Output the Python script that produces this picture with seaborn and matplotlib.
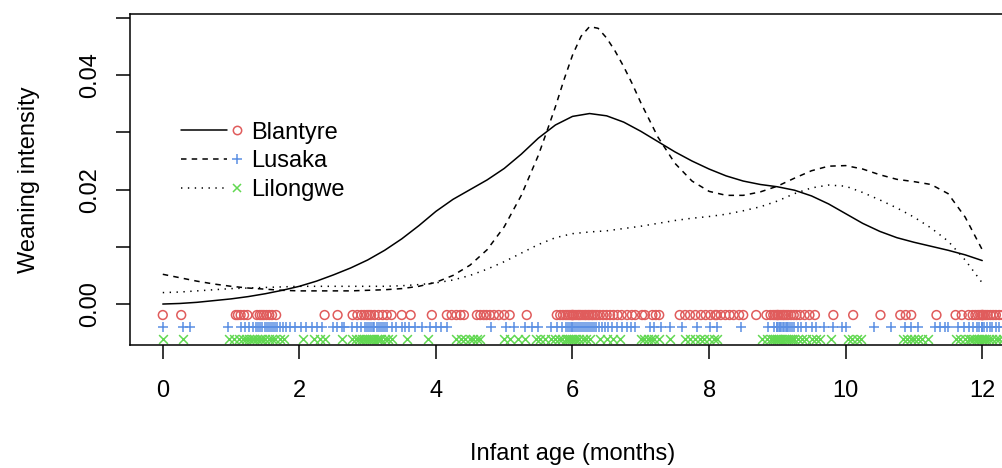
import matplotlib
matplotlib.use("Agg")
import matplotlib.pyplot as plt
from matplotlib.lines import Line2D
from matplotlib.legend_handler import HandlerBase
import pandas as pd
import seaborn as sns

# Smoothed weaning intensity by infant age (months)
age = [0.0, 0.25, 0.5, 0.75, 1.0, 1.25, 1.5, 1.75, 2.0, 2.25, 2.5, 2.75, 3.0,
       3.25, 3.5, 3.75, 4.0, 4.25, 4.5, 4.75, 5.0, 5.25, 5.5, 5.75, 6.0,
       6.25, 6.5, 6.75, 7.0, 7.25, 7.5, 7.75, 8.0, 8.25, 8.5, 8.75, 9.0,
       9.25, 9.5, 9.75, 10.0, 10.25, 10.5, 10.75, 11.0, 11.25, 11.5, 11.75, 12.0]

blantyre = [0.0000, 0.0001, 0.0003, 0.0006, 0.0009, 0.0013, 0.0018, 0.0024,
            0.0031, 0.0040, 0.0051, 0.0063, 0.0077, 0.0094, 0.0114, 0.0137,
            0.0162, 0.0183, 0.0200, 0.0217, 0.0237, 0.0262, 0.0290, 0.0313,
            0.0328, 0.0333, 0.0329, 0.0318, 0.0302, 0.0284, 0.0266, 0.0250,
            0.0236, 0.0224, 0.0215, 0.0209, 0.0205, 0.0199, 0.0189, 0.0175,
            0.0158, 0.0141, 0.0127, 0.0116, 0.0108, 0.0101, 0.0094, 0.0086,
            0.0076]

# Lusaka is evaluated on a finer grid around its sharp peak
age_lusaka = [0.0, 0.25, 0.5, 0.75, 1.0, 1.25, 1.5, 1.75, 2.0, 2.25, 2.5, 2.75,
              3.0, 3.25, 3.5, 3.75, 4.0, 4.25, 4.5, 4.75, 5.0, 5.25, 5.5,
              5.625, 5.75, 5.875, 6.0, 6.125, 6.25, 6.375, 6.5, 6.625, 6.75,
              6.875, 7.0, 7.25, 7.5, 7.75, 8.0, 8.25, 8.5, 8.75, 9.0, 9.25,
              9.5, 9.75, 10.0, 10.25, 10.5, 10.75, 11.0, 11.25, 11.5, 11.75, 12.0]

lusaka = [0.0052, 0.0046, 0.0040, 0.0035, 0.0031, 0.0028, 0.0026, 0.0024,
          0.0023, 0.0023, 0.0023, 0.0023, 0.0024, 0.0025, 0.0027, 0.0031,
          0.0038, 0.0050, 0.0068, 0.0095, 0.0135, 0.0190, 0.0260,
          0.0302, 0.0345, 0.0392, 0.0435, 0.0468, 0.0485, 0.0482, 0.0465,
          0.0442, 0.0415, 0.0385, 0.0352, 0.0292, 0.0246, 0.0215,
          0.0197, 0.0190, 0.0190, 0.0196, 0.0206, 0.0220, 0.0233, 0.0241,
          0.0242, 0.0236, 0.0226, 0.0218, 0.0214, 0.0209, 0.0193, 0.0152,
          0.0095]

lilongwe = [0.0020, 0.0021, 0.0023, 0.0025, 0.0027, 0.0028, 0.0029, 0.0030,
            0.0031, 0.0031, 0.0031, 0.0031, 0.0031, 0.0031, 0.0032, 0.0034,
            0.0037, 0.0042, 0.0050, 0.0061, 0.0074, 0.0089, 0.0104, 0.0116,
            0.0123, 0.0126, 0.0128, 0.0132, 0.0136, 0.0141, 0.0146, 0.0150,
            0.0153, 0.0157, 0.0163, 0.0170, 0.0180, 0.0193, 0.0203, 0.0208,
            0.0206, 0.0195, 0.0182, 0.0168, 0.0152, 0.0133, 0.0110, 0.0077,
            0.0037]

# Observed weaning ages per site (rug rows under the curves)
ages_blantyre = [
    0.0, 0.27, 1.07, 1.10, 1.14, 1.19, 1.24, 1.38, 1.42, 1.45, 1.48, 1.52,
    1.56, 1.60, 1.66, 2.37, 2.56, 2.78, 2.85, 2.91, 2.95, 2.99, 3.02, 3.05,
    3.10, 3.16, 3.22, 3.28, 3.35, 3.50, 3.63, 3.94, 4.16, 4.23, 4.30, 4.36,
    4.41, 4.60, 4.65, 4.70, 4.74, 4.79, 4.85, 4.92, 5.00, 5.08, 5.33, 5.77,
    5.82, 5.86, 5.90, 5.93, 5.96, 5.99, 6.00, 6.00, 6.02, 6.05, 6.08, 6.10,
    6.12, 6.15, 6.18, 6.20, 6.23, 6.25, 6.28, 6.30, 6.33, 6.36, 6.40, 6.45,
    6.50, 6.55, 6.60, 6.66, 6.72, 6.80, 6.87, 6.92, 7.02, 7.06, 7.17, 7.22,
    7.27, 7.57, 7.65, 7.72, 7.80, 7.88, 7.95, 8.02, 8.09, 8.11, 8.17, 8.24,
    8.30, 8.36, 8.44, 8.50, 8.69, 8.84, 8.90, 8.94, 8.97, 9.00, 9.00, 9.02,
    9.05, 9.08, 9.10, 9.13, 9.16, 9.20, 9.24, 9.28, 9.33, 9.40, 9.47, 9.55,
    9.82, 10.11, 10.51, 10.80, 10.88, 10.96, 11.33, 11.61, 11.70, 11.80,
    11.86, 11.90, 11.94, 11.97, 12.00, 12.00, 12.00, 12.02, 12.05, 12.08,
    12.12, 12.16, 12.20, 12.25, 12.30]

ages_lusaka = [
    0.0, 0.30, 0.40, 0.95, 1.14, 1.20, 1.26, 1.32, 1.36, 1.40, 1.43, 1.46,
    1.49, 1.52, 1.55, 1.58, 1.61, 1.64, 1.68, 1.72, 1.76, 1.80, 1.87, 1.94,
    2.02, 2.10, 2.18, 2.26, 2.33, 2.49, 2.55, 2.62, 2.66, 2.77, 2.85, 2.91,
    2.96, 2.99, 3.02, 3.05, 3.08, 3.10, 3.13, 3.16, 3.19, 3.22, 3.25, 3.29,
    3.35, 3.42, 3.50, 3.54, 3.61, 3.70, 3.80, 3.91, 4.00, 4.08, 4.16, 4.80,
    5.02, 5.15, 5.30, 5.40, 5.50, 5.69, 5.78, 5.85, 5.90, 5.94, 5.97, 6.00,
    6.00, 6.02, 6.05, 6.08, 6.11, 6.14, 6.17, 6.20, 6.23, 6.26, 6.29, 6.32,
    6.35, 6.39, 6.43, 6.47, 6.52, 6.58, 6.65, 6.72, 6.80, 6.86, 6.92, 7.13,
    7.20, 7.30, 7.43, 7.61, 7.83, 8.02, 8.11, 8.47, 8.87, 8.95, 9.00, 9.00,
    9.02, 9.04, 9.06, 9.08, 9.10, 9.12, 9.14, 9.16, 9.19, 9.22, 9.25, 9.30,
    9.35, 9.42, 9.50, 9.57, 9.69, 9.82, 9.95, 10.01, 10.41, 10.67, 10.87,
    10.96, 11.06, 11.31, 11.38, 11.45, 11.50, 11.65, 11.73, 11.80, 11.87,
    11.92, 11.96, 12.00, 12.00, 12.00, 12.03, 12.07, 12.11, 12.15, 12.20,
    12.25, 12.30]

ages_lilongwe = [
    0.0, 0.29, 0.97, 1.05, 1.12, 1.17, 1.22, 1.26, 1.30, 1.34, 1.38, 1.42,
    1.46, 1.50, 1.55, 1.60, 1.65, 1.72, 1.78, 2.05, 2.22, 2.30, 2.38, 2.62,
    2.77, 2.83, 2.88, 2.92, 2.95, 2.98, 3.01, 3.04, 3.07, 3.10, 3.13, 3.16,
    3.20, 3.25, 3.30, 3.35, 3.57, 3.89, 4.30, 4.36, 4.42, 4.50, 4.55, 4.60,
    4.65, 4.99, 5.08, 5.20, 5.31, 5.46, 5.52, 5.60, 5.69, 5.75, 5.80, 5.85,
    5.90, 5.94, 5.97, 6.00, 6.02, 6.05, 6.10, 6.15, 6.20, 6.25, 6.40, 6.50,
    6.59, 6.70, 7.00, 7.05, 7.10, 7.15, 7.20, 7.27, 7.43, 7.65, 7.72, 7.79,
    7.86, 7.93, 8.00, 8.07, 8.12, 8.77, 8.85, 8.90, 8.94, 8.97, 9.00, 9.00,
    9.03, 9.06, 9.09, 9.12, 9.15, 9.18, 9.21, 9.25, 9.30, 9.36, 9.42, 9.50,
    9.57, 9.62, 9.79, 10.04, 10.10, 10.16, 10.23, 10.84, 10.90, 10.95, 11.00,
    11.06, 11.12, 11.21, 11.61, 11.68, 11.75, 11.80, 11.84, 11.88, 11.92,
    11.95, 11.98, 12.00, 12.00, 12.02, 12.05, 12.10, 12.15, 12.20, 12.25,
    12.30]

sites = ["Blantyre", "Lusaka", "Lilongwe"]
rug_levels = [-0.00192, -0.00402, -0.00611]
x_ticks = [0, 2, 4, 6, 8, 10, 12]
y_ticks = [0.00, 0.01, 0.02, 0.03, 0.04, 0.05]
y_tick_labels = ["0.00", "", "0.02", "", "0.04", ""]

colors = {"Blantyre": "#E05C5C", "Lusaka": "#5B8FE3", "Lilongwe": "#62D852"}
line_styles = {"Blantyre": "-", "Lusaka": (0, (3.6, 3.4)), "Lilongwe": (0, (0.9, 3.6))}
markers = {"Blantyre": "o", "Lusaka": "+", "Lilongwe": "x"}

sns.set_theme(style="white")
plt.rcParams["font.family"] = ["Liberation Sans", "DejaVu Sans"]
plt.rcParams["text.color"] = "black"
plt.rcParams["axes.labelcolor"] = "black"
plt.rcParams["xtick.color"] = "black"
plt.rcParams["ytick.color"] = "black"
plt.rcParams["axes.linewidth"] = 1.1

FS = 17

fig = plt.figure(figsize=(10.03, 4.68), dpi=100)
ax = fig.add_axes([130 / 1003, 123 / 468, 885 / 1003, 331 / 468])

curve_series = {
    "Blantyre": pd.DataFrame({"age": age, "w": blantyre}),
    "Lusaka": pd.DataFrame({"age": age_lusaka, "w": lusaka}),
    "Lilongwe": pd.DataFrame({"age": age, "w": lilongwe}),
}
for site in sites:
    sns.lineplot(data=curve_series[site], x="age", y="w", ax=ax, color="black",
                 linewidth=1.1, linestyle=line_styles[site], legend=False)

obs = {"Blantyre": ages_blantyre, "Lusaka": ages_lusaka, "Lilongwe": ages_lilongwe}
for site, level in zip(sites, rug_levels):
    pts = pd.DataFrame({"age": obs[site], "y": [level] * len(obs[site])})
    if markers[site] == "o":
        sns.scatterplot(data=pts, x="age", y="y", ax=ax, marker="o", s=40,
                        facecolors="none", edgecolor=colors[site],
                        linewidth=1.1, legend=False)
    else:
        sns.scatterplot(data=pts, x="age", y="y", ax=ax, marker=markers[site],
                        s=58 if markers[site] == "+" else 40,
                        color=colors[site], linewidth=1.1, legend=False)

ax.set_xlim(-0.48, 12.48)
ax.set_ylim(-0.00716, 0.0507)
ax.set_xticks(x_ticks)
ax.set_xticklabels([str(t) for t in x_ticks])
ax.set_yticks(y_ticks)
ax.set_yticklabels(y_tick_labels, rotation=90, va="center")

for side in ["left", "bottom", "top", "right"]:
    ax.spines[side].set_visible(True)
    ax.spines[side].set_color("black")
    ax.spines[side].set_linewidth(1.1)

ax.tick_params(axis="both", direction="out", length=10, width=1.1,
               color="black", labelsize=FS, labelcolor="black")
ax.tick_params(axis="x", bottom=True, pad=15)
ax.tick_params(axis="y", left=True, pad=11)

ax.set_xlabel("Infant age (months)", fontsize=FS, labelpad=30, color="black")
ax.set_ylabel("Weaning intensity", fontsize=FS, labelpad=28, color="black")


class LineThenMarker(HandlerBase):
    """Legend key: a line segment followed by the site's point symbol."""

    def create_artists(self, legend, orig_handle, xdescent, ydescent,
                       width, height, fontsize, trans):
        ln, mk = orig_handle
        y = height / 2 - ydescent
        seg = Line2D([-xdescent, -xdescent + width * 0.73], [y, y])
        seg.update_from(ln)
        dot = Line2D([-xdescent + width * 0.89], [y])
        dot.update_from(mk)
        seg.set_transform(trans)
        dot.set_transform(trans)
        return [seg, dot]


handles = []
for site in sites:
    ln = Line2D([], [], color="black", linewidth=1.1, linestyle=line_styles[site])
    mk = Line2D([], [], linestyle="none", marker=markers[site],
                markersize=7.5 if markers[site] == "+" else 6,
                markerfacecolor="none",
                markeredgecolor=colors[site], markeredgewidth=1.1)
    handles.append((ln, mk))

leg = ax.legend(handles, sites, handler_map={tuple: LineThenMarker()},
                loc="upper left", bbox_to_anchor=(0.058, 0.675), frameon=False,
                fontsize=FS, handlelength=2.65, handletextpad=0.3,
                labelspacing=0.28, borderaxespad=0, borderpad=0)
for t in leg.get_texts():
    t.set_color("black")

fig.savefig("out.png", dpi=100)
